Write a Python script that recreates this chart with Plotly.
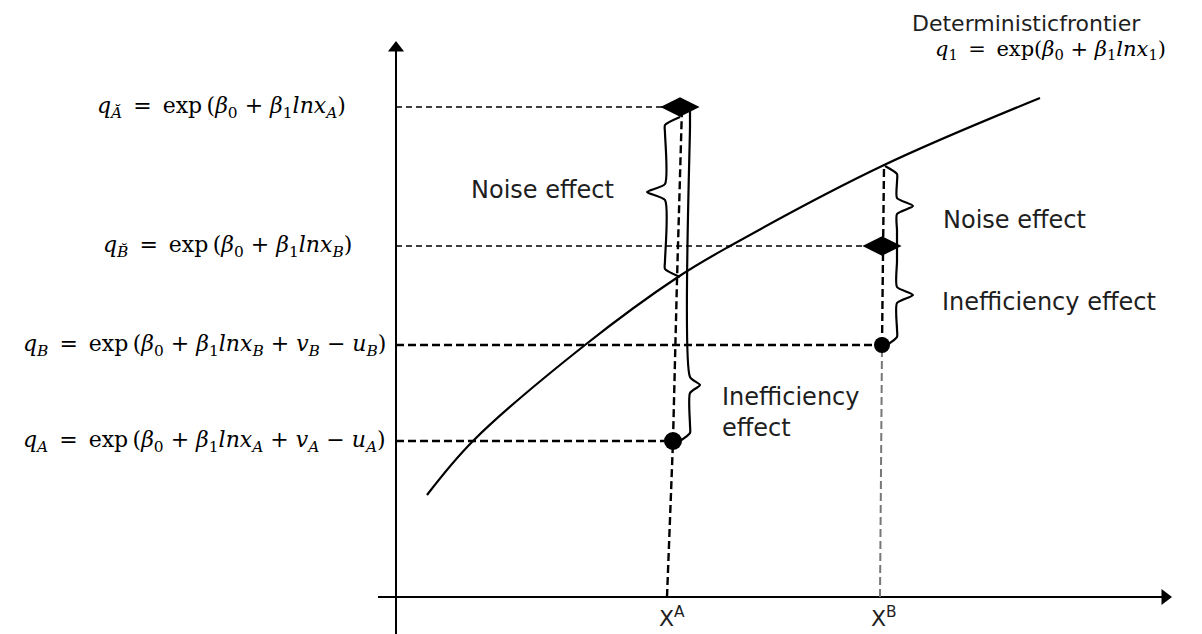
import plotly.graph_objects as go

# ---- data (diagram units: origin at the axes crossing) ----
x_A = 277          # input of firm A
x_B = 486          # input of firm B
q_A_tilde = 490    # frontier output of A plus noise
q_B_tilde = 351    # frontier output of B plus noise
q_B = 252          # observed output of B
q_A = 156          # observed output of A

frontier_x = [31, 77, 189, 282, 334, 486, 644]
frontier_y = [102, 156, 252, 320, 351, 431, 499]

vertA_x = [271, 277, 281, 286]
vertA_y = [0, q_A, 317, q_A_tilde]
vertB_low_x = [484, x_B]
vertB_low_y = [0, q_B]
vertB_up_x = [x_B, 488]
vertB_up_y = [q_B, 431]

tick_labels = ["X<sup>A</sup>", "X<sup>B</sup>"]
tick_pos = [276, 488]

EQ = "\u2002=\u2002"
left_labels = [
    "<i>q</i><sub><i>Ă</i></sub>" + EQ + "exp\u2009(<i>β</i><sub>0</sub> + <i>β</i><sub>1</sub><i>lnx</i><sub><i>A</i></sub>)",
    "<i>q</i><sub><i>B̆</i></sub>" + EQ + "exp\u2009(<i>β</i><sub>0</sub> + <i>β</i><sub>1</sub><i>lnx</i><sub><i>B</i></sub>)",
    "<i>q</i><sub><i>B</i></sub>" + EQ + "exp\u2009(<i>β</i><sub>0</sub> + <i>β</i><sub>1</sub><i>lnx</i><sub><i>B</i></sub> + <i>v</i><sub><i>B</i></sub> − <i>u</i><sub><i>B</i></sub>)",
    "<i>q</i><sub><i>A</i></sub>" + EQ + "exp\u2009(<i>β</i><sub>0</sub> + <i>β</i><sub>1</sub><i>lnx</i><sub><i>A</i></sub> + <i>v</i><sub><i>A</i></sub> − <i>u</i><sub><i>A</i></sub>)",
]
left_label_levels = [q_A_tilde, q_B_tilde, q_B, q_A]
left_label_right = [-48, -42, -8, -8]

SANS = "DejaVu Sans"
SERIF = "DejaVu Serif"
TXT = "#1e1e1e"

fig = go.Figure()


def line(xs, ys, width=2, dash="solid", color="black", shape="linear"):
    fig.add_trace(go.Scatter(x=xs, y=ys, mode="lines",
                             line=dict(color=color, width=width, dash=dash, shape=shape),
                             hoverinfo="skip", showlegend=False))


def brace(x_start, y_top, x_line, x_tip, y_mid, y_bot, x_end, r=8):
    xs = [x_start, x_line, x_line, x_line, x_tip, x_line, x_line, x_line, x_end]
    ys = [y_top, y_top - r, y_top - 2 * r, y_mid + r, y_mid, y_mid - r, y_bot + 2 * r, y_bot + r, y_bot]
    fig.add_trace(go.Scatter(x=xs, y=ys, mode="lines",
                             line=dict(color="black", width=2.2, shape="spline", smoothing=0.6),
                             hoverinfo="skip", showlegend=False))


# axes
line([0, 0], [-45, 548], width=2)
line([-18, 768], [0, 0], width=2)
fig.add_trace(go.Scatter(x=[0], y=[549], mode="markers",
                         marker=dict(symbol="triangle-up", size=14, color="black", line=dict(width=0)),
                         hoverinfo="skip", showlegend=False))
fig.add_trace(go.Scatter(x=[769], y=[0], mode="markers",
                         marker=dict(symbol="triangle-right", size=14, color="black", line=dict(width=0)),
                         hoverinfo="skip", showlegend=False))

# horizontal guide lines
line([0, 284], [q_A_tilde, q_A_tilde], width=1.4, dash="6px,4px")
line([0, x_B], [q_B_tilde, q_B_tilde], width=1.4, dash="6px,4px")
line([0, x_B], [q_B, q_B], width=2.4, dash="8px,4px")
line([0, x_A], [q_A, q_A], width=2.4, dash="8px,4px")

# vertical guide lines
line(vertA_x, vertA_y, width=2.4, dash="8px,4px")
line(vertB_low_x, vertB_low_y, width=2, dash="8px,4px", color="#777777")
line(vertB_up_x, vertB_up_y, width=2.4, dash="8px,4px")

# frontier
line(frontier_x, frontier_y, width=2.2, shape="spline")

# braces
brace(284, 480, 269, 251, 405, 320, 284)
brace(294, 486, 294, 304, 212, 156, 284)
brace(489, 431, 501, 517, 391, 351, 501)
brace(501, 351, 501, 517, 302, 252, 491)

# points
fig.add_trace(go.Scatter(x=[284, x_B], y=[q_A_tilde, q_B_tilde], mode="markers",
                         marker=dict(symbol="diamond-wide", size=28, color="black",
                                     opacity=1, line=dict(width=0)),
                         hoverinfo="skip", showlegend=False))
fig.add_trace(go.Scatter(x=[x_B, x_A], y=[q_B, q_A], mode="markers",
                         marker=dict(symbol="circle", size=[16, 18], color="black",
                                     opacity=1, line=dict(width=0)),
                         hoverinfo="skip", showlegend=False))

# text
for txt, yv, xr in zip(left_labels, left_label_levels, left_label_right):
    fig.add_annotation(x=xr, y=yv, text=txt, showarrow=False, xanchor="right", yanchor="middle",
                       font=dict(family=SERIF, size=22, color="black"))

for txt, xp in zip(tick_labels, tick_pos):
    fig.add_annotation(x=xp, y=-20, text=txt, showarrow=False, xanchor="center", yanchor="middle",
                       font=dict(family=SANS, size=22, color=TXT))

fig.add_annotation(x=630, y=574, text="Deterministicfrontier", showarrow=False,
                   font=dict(family=SANS, size=22, color=TXT))
fig.add_annotation(x=654, y=547,
                   text="<i>q</i><sub>1</sub>" + EQ + "exp(<i>β</i><sub>0</sub> + <i>β</i><sub>1</sub><i>lnx</i><sub>1</sub>)",
                   showarrow=False, font=dict(family=SERIF, size=21, color="black"))
fig.add_annotation(x=146, y=407, text="Noise effect", showarrow=False,
                   font=dict(family=SANS, size=24, color=TXT))
fig.add_annotation(x=618, y=377, text="Noise effect", showarrow=False,
                   font=dict(family=SANS, size=24, color=TXT))
fig.add_annotation(x=653, y=295, text="Inefficiency effect", showarrow=False,
                   font=dict(family=SANS, size=24, color=TXT))
fig.add_annotation(x=324, y=185, text="Inefficiency<br>effect", showarrow=False,
                   xanchor="left", align="left",
                   font=dict(family=SANS, size=24, color=TXT))

fig.update_layout(
    width=1202, height=634,
    margin=dict(l=0, r=0, t=0, b=0),
    paper_bgcolor="white", plot_bgcolor="white",
    xaxis=dict(range=[-388, 814], visible=False, fixedrange=True),
    yaxis=dict(range=[-45, 589], visible=False, fixedrange=True),
)

fig.write_html("out.html")
